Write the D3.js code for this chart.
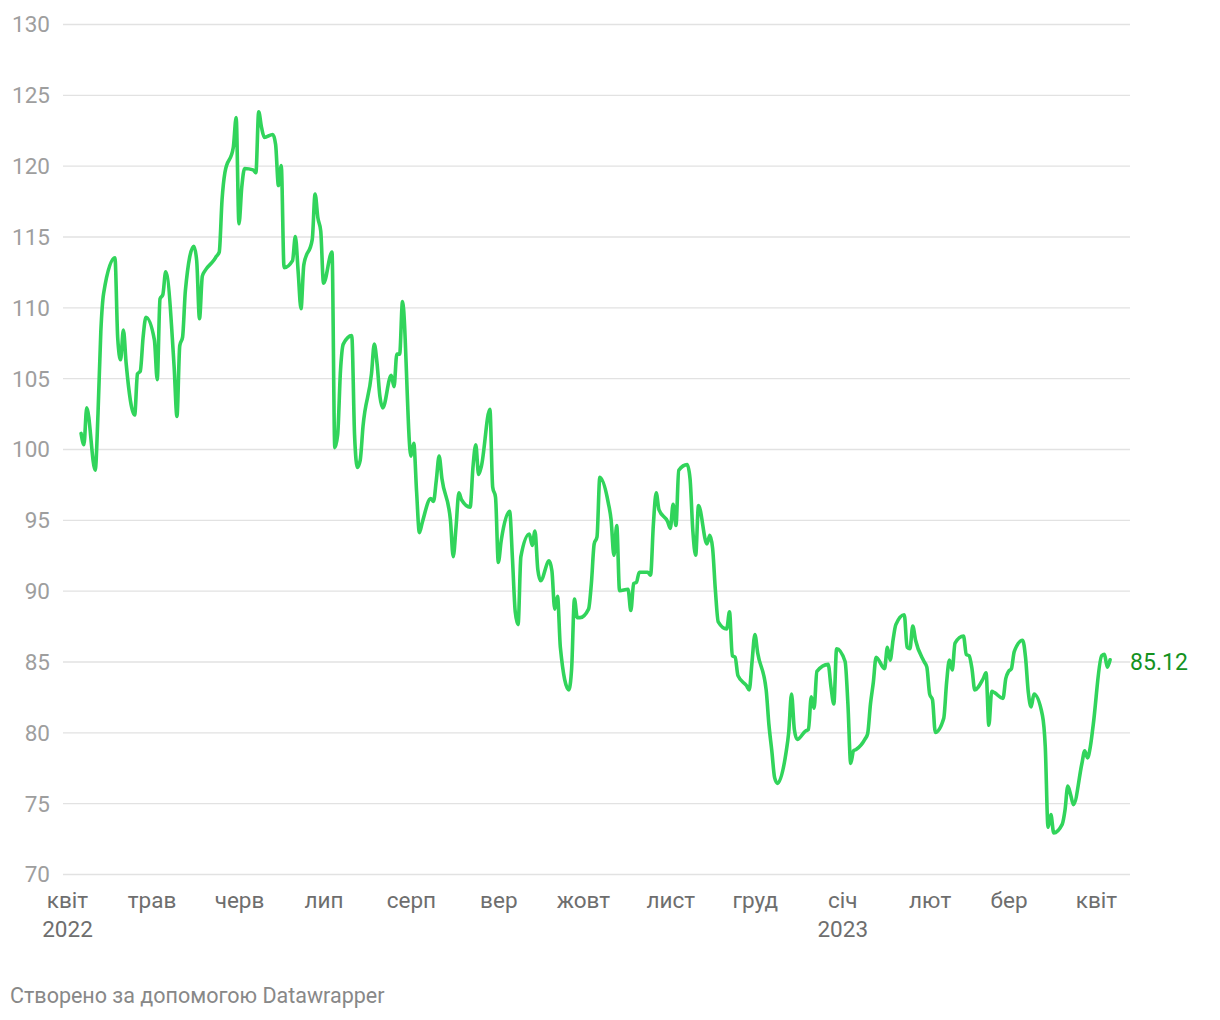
<!DOCTYPE html>
<html>
<head>
<meta charset="utf-8">
<script src="https://cdn.jsdelivr.net/npm/d3@7"></script>
<style>
  body { margin: 0; background: #ffffff; }
  svg { display: block; font-family: Roboto, "Noto Sans", "DejaVu Sans", sans-serif; }
</style>
</head>
<body>
<svg id="chart" width="1220" height="1020"></svg>
<script>
// ---- data ----
const dates = [
  "2022-04-06","2022-04-07","2022-04-08","2022-04-11","2022-04-12","2022-04-13","2022-04-14","2022-04-18","2022-04-19","2022-04-20",
  "2022-04-21","2022-04-22","2022-04-25","2022-04-26","2022-04-27","2022-04-28","2022-04-29","2022-05-02","2022-05-03","2022-05-04",
  "2022-05-05","2022-05-06","2022-05-09","2022-05-10","2022-05-11","2022-05-12","2022-05-13","2022-05-16","2022-05-17","2022-05-18",
  "2022-05-19","2022-05-20","2022-05-23","2022-05-24","2022-05-25","2022-05-26","2022-05-27","2022-05-30","2022-05-31","2022-06-01",
  "2022-06-02","2022-06-03","2022-06-06","2022-06-07","2022-06-08","2022-06-09","2022-06-10","2022-06-13","2022-06-14","2022-06-15",
  "2022-06-16","2022-06-17","2022-06-20","2022-06-21","2022-06-22","2022-06-23","2022-06-24","2022-06-27","2022-06-28","2022-06-29",
  "2022-06-30","2022-07-01","2022-07-04","2022-07-05","2022-07-06","2022-07-07","2022-07-08","2022-07-11","2022-07-12","2022-07-13",
  "2022-07-14","2022-07-15","2022-07-18","2022-07-19","2022-07-20","2022-07-21","2022-07-22","2022-07-25","2022-07-26","2022-07-27",
  "2022-07-28","2022-07-29","2022-08-01","2022-08-02","2022-08-03","2022-08-04","2022-08-05","2022-08-08","2022-08-09","2022-08-10",
  "2022-08-11","2022-08-12","2022-08-15","2022-08-16","2022-08-17","2022-08-18","2022-08-19","2022-08-22","2022-08-23","2022-08-24",
  "2022-08-25","2022-08-26","2022-08-29","2022-08-30","2022-08-31","2022-09-01","2022-09-02","2022-09-05","2022-09-06","2022-09-07",
  "2022-09-08","2022-09-09","2022-09-12","2022-09-13","2022-09-14","2022-09-15","2022-09-16","2022-09-19","2022-09-20","2022-09-21",
  "2022-09-22","2022-09-23","2022-09-26","2022-09-27","2022-09-28","2022-09-29","2022-09-30","2022-10-03","2022-10-04","2022-10-05",
  "2022-10-06","2022-10-07","2022-10-10","2022-10-11","2022-10-12","2022-10-13","2022-10-14","2022-10-17","2022-10-18","2022-10-19",
  "2022-10-20","2022-10-21","2022-10-24","2022-10-25","2022-10-26","2022-10-27","2022-10-28","2022-10-31","2022-11-01","2022-11-02",
  "2022-11-03","2022-11-04","2022-11-07","2022-11-08","2022-11-09","2022-11-10","2022-11-11","2022-11-14","2022-11-15","2022-11-16",
  "2022-11-17","2022-11-18","2022-11-21","2022-11-22","2022-11-23","2022-11-24","2022-11-25","2022-11-28","2022-11-29","2022-11-30",
  "2022-12-01","2022-12-02","2022-12-05","2022-12-06","2022-12-07","2022-12-08","2022-12-09","2022-12-12","2022-12-13","2022-12-14",
  "2022-12-15","2022-12-16","2022-12-19","2022-12-20","2022-12-21","2022-12-22","2022-12-23","2022-12-27","2022-12-28","2022-12-29",
  "2022-12-30","2023-01-02","2023-01-03","2023-01-04","2023-01-05","2023-01-06","2023-01-09","2023-01-10","2023-01-11","2023-01-12",
  "2023-01-13","2023-01-16","2023-01-17","2023-01-18","2023-01-19","2023-01-20","2023-01-23","2023-01-24","2023-01-25","2023-01-26",
  "2023-01-27","2023-01-30","2023-01-31","2023-02-01","2023-02-02","2023-02-03","2023-02-06","2023-02-07","2023-02-08","2023-02-09",
  "2023-02-10","2023-02-13","2023-02-14","2023-02-15","2023-02-16","2023-02-17","2023-02-20","2023-02-21","2023-02-22","2023-02-23",
  "2023-02-24","2023-02-27","2023-02-28","2023-03-01","2023-03-02","2023-03-03","2023-03-06","2023-03-07","2023-03-08","2023-03-09",
  "2023-03-10","2023-03-13","2023-03-14","2023-03-15","2023-03-16","2023-03-17","2023-03-20","2023-03-21","2023-03-22","2023-03-23",
  "2023-03-24","2023-03-27","2023-03-28","2023-03-29","2023-03-30","2023-03-31","2023-04-03","2023-04-04","2023-04-05","2023-04-06"
];
const values = [
  101.1,100.3,102.9,98.5,102.5,108.3,111.0,113.5,107.8,106.3,
  108.4,106.0,102.4,105.3,105.5,107.9,109.3,107.7,104.9,110.6,
  110.9,112.5,105.8,102.3,107.3,107.9,111.2,114.3,113.3,109.2,
  112.2,112.6,113.3,113.6,113.9,117.6,119.5,121.3,123.4,115.9,
  118.5,119.8,119.7,119.5,123.8,122.7,122.0,122.2,121.5,118.6,
  120.0,112.8,113.3,115.0,112.5,109.9,113.0,114.8,118.0,116.3,
  115.4,111.7,113.9,100.1,101.0,105.5,107.4,108.0,101.0,98.7,
  99.2,101.6,105.3,107.4,106.0,103.7,102.9,105.2,104.4,106.7,
  106.7,110.4,99.5,100.4,97.0,94.1,94.8,96.5,96.3,97.8,
  99.5,97.9,95.0,92.4,94.5,96.9,96.4,95.9,98.7,100.3,
  98.2,98.8,102.8,97.3,96.6,92.0,93.5,95.6,92.3,88.5,
  87.6,92.4,94.0,93.2,94.2,91.5,90.7,92.1,91.4,88.7,
  89.6,86.0,83.0,84.5,89.4,88.1,88.1,88.7,90.5,93.3,
  93.8,98.0,96.2,95.0,92.5,94.6,90.0,90.1,88.6,90.5,
  90.6,91.3,91.3,91.1,94.7,96.9,95.7,94.9,94.4,96.1,
  94.6,98.5,98.9,97.9,94.2,92.5,96.0,93.3,93.9,93.0,
  90.0,87.8,87.3,88.5,85.4,85.3,84.0,83.3,83.0,85.0,
  86.9,85.6,83.0,80.5,78.7,76.8,76.4,78.5,80.0,82.7,
  80.2,79.5,80.1,80.2,82.5,81.7,84.3,84.8,83.2,82.0,
  85.9,85.0,82.0,77.8,78.7,78.8,79.5,79.9,82.0,83.5,
  85.3,84.5,86.0,85.1,86.5,87.6,88.3,86.0,85.9,87.5,
  86.5,85.0,84.6,82.7,82.3,80.0,81.0,83.5,85.1,84.4,
  86.3,86.8,85.5,85.4,84.5,83.0,83.8,84.2,80.5,82.9,
  82.8,82.4,83.8,84.3,84.5,85.7,86.5,85.3,82.8,81.8,
  82.7,81.2,79.0,73.3,74.2,72.9,73.5,74.5,76.2,75.6,
  74.9,77.8,78.7,78.2,79.0,80.5,85.4,85.5,84.6,85.12
];
const yTicks = [70, 75, 80, 85, 90, 95, 100, 105, 110, 115, 120, 125, 130];
const monthTicks = ["2022-04-01","2022-05-01","2022-06-01","2022-07-01","2022-08-01","2022-09-01",
  "2022-10-01","2022-11-01","2022-12-01","2023-01-01","2023-02-01","2023-03-01","2023-04-01"];
const monthLabels = ["квіт","трав","черв","лип","серп","вер","жовт","лист","груд","січ","лют","бер","квіт"];
const yearLabels = ["2022","","","","","","","","","2023","","",""];
const lastValueLabel = "85.12";
const footerText = "Створено за допомогою Datawrapper";

// ---- drawing ----
const parse = d3.timeParse("%Y-%m-%d");
const series = dates.map((d, i) => ({ date: parse(d), value: values[i] }));

const svg = d3.select("#chart");
const x = d3.scaleTime()
  .domain([parse("2022-04-01"), parse("2023-04-01")])
  .range([67, 1096]);
const y = d3.scaleLinear().domain([70, 130]).range([874, 24]);

const FONT = 22.5;

// gridlines
svg.append("g")
  .attr("transform", "translate(63,0)")
  .call(d3.axisRight(y).tickValues(yTicks).tickSize(1130 - 63).tickFormat(""))
  .call(g => g.select(".domain").remove())
  .call(g => g.selectAll("line").attr("stroke", "#e2e2e2").attr("stroke-width", 1.4));

// y axis labels
svg.append("g")
  .attr("transform", "translate(50,0)")
  .call(d3.axisLeft(y).tickValues(yTicks).tickSize(0).tickPadding(0))
  .call(g => g.select(".domain").remove())
  .call(g => g.selectAll("text")
    .attr("font-family", "Roboto, 'Noto Sans', sans-serif")
    .attr("font-size", FONT)
    .attr("fill", "#9e9e9e")
    .attr("dy", "0.35em"));

// x axis labels
const monthDates = monthTicks.map(parse);
const xAxisG = svg.append("g")
  .attr("transform", "translate(0,874)")
  .call(d3.axisBottom(x).tickValues(monthDates).tickSize(0).tickPadding(0)
    .tickFormat((d, i) => monthLabels[i]))
  .call(g => g.select(".domain").remove());
xAxisG.selectAll("text")
  .attr("font-family", "Roboto, 'Noto Sans', sans-serif")
  .attr("font-size", FONT)
  .attr("fill", "#6e6e6e")
  .attr("y", 34)
  .attr("dy", 0)
  .each(function(d, i) {
    if (yearLabels[i]) {
      d3.select(this).append("tspan")
        .attr("x", 0)
        .attr("dy", 29)
        .text(yearLabels[i]);
    }
  });

// line
const line = d3.line()
  .x(d => x(d.date))
  .y(d => y(d.value))
  .curve(d3.curveMonotoneX);

svg.append("path")
  .datum(series)
  .attr("fill", "none")
  .attr("stroke", "#31d45b")
  .attr("stroke-width", 3.6)
  .attr("stroke-linejoin", "round")
  .attr("stroke-linecap", "round")
  .attr("d", line);

// last value label
const last = series[series.length - 1];
svg.append("text")
  .attr("x", x(last.date) + 20)
  .attr("y", y(last.value) + 2)
  .attr("dy", "0.35em")
  .attr("font-family", "Roboto, 'Noto Sans', sans-serif")
  .attr("font-size", 23)
  .attr("fill", "#14921f")
  .text(lastValueLabel);

// footer
svg.append("text")
  .attr("x", 10)
  .attr("y", 1003)
  .attr("font-family", "Roboto, 'Noto Sans', sans-serif")
  .attr("font-size", 21.5)
  .attr("fill", "#888888")
  .text(footerText);
</script>
</body>
</html>
